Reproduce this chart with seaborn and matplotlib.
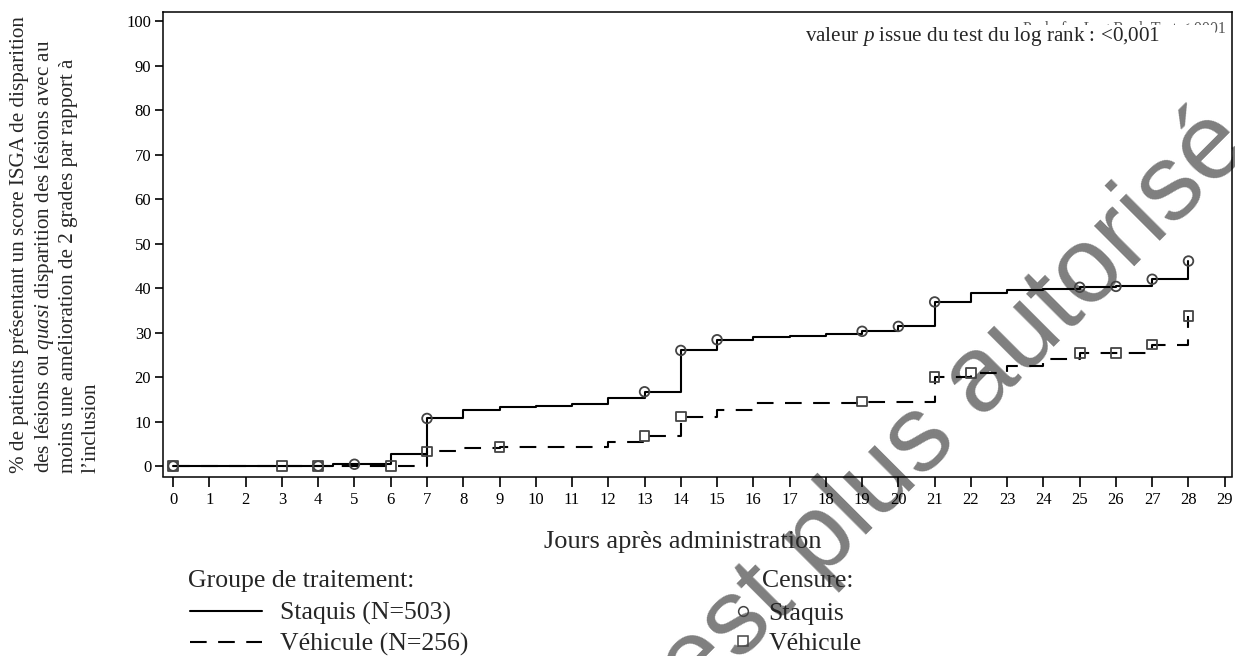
import numpy as np
import pandas as pd
import matplotlib
matplotlib.use("Agg")
import matplotlib.pyplot as plt
from matplotlib.lines import Line2D
from matplotlib.patches import Rectangle
import seaborn as sns

# ---------------- data ----------------
staquis_days = [0, 4.4, 6, 7, 8, 9, 10, 11, 12, 13, 14, 15, 16, 17, 18, 19, 20, 21, 22, 23, 24, 25, 26, 27, 28]
staquis_pct = [0, 0.4, 2.6, 10.7, 12.5, 13.2, 13.5, 13.9, 15.3, 16.7, 26.0, 28.4, 29.0, 29.2, 29.6, 30.3, 31.4,
               36.9, 39.0, 39.6, 39.9, 40.2, 40.4, 42.0, 46.1]
staquis_censor_days = [0, 4, 5, 7, 13, 14, 15, 19, 20, 21, 25, 26, 27, 28]

vehicule_days = [0, 7, 8, 9, 12, 13, 14, 15, 16, 19, 21, 22, 23, 24, 25, 27, 28]
vehicule_pct = [0, 3.3, 4.0, 4.3, 5.3, 6.8, 11.1, 12.7, 14.2, 14.5, 20.0, 20.9, 22.4, 24.1, 25.4, 27.3, 33.8]
vehicule_censor_days = [0, 3, 4, 6, 7, 9, 13, 14, 19, 21, 22, 25, 26, 27, 28]

x_ticks = list(range(0, 30))
y_ticks = list(range(0, 101, 10))

group_title = "Groupe de traitement:"
group_labels = ["Staquis (N=503)", "Véhicule (N=256)"]
censor_title = "Censure:"
censor_labels = ["Staquis", "Véhicule"]

ylabel_text = ("% de patients présentant un score ISGA de disparition\n"
               "des lésions ou $quasi$ disparition des lésions avec au\n"
               "moins une amélioration de 2 grades par rapport à\n"
               "l\u2019inclusion")
xlabel_text = "Jours après administration"
pvalue_text = "valeur $p$ issue du test du log rank : <0,001"
hidden_text = "Prob. for Log Rank Test <.0001"
watermark_text = "Médicament n'est plus autorisé"


def step_value(days, pct, d):
    i = np.searchsorted(days, d, side="right") - 1
    return pct[i]


st_df = pd.DataFrame({"day": staquis_days, "pct": staquis_pct})
ve_df = pd.DataFrame({"day": vehicule_days, "pct": vehicule_pct})
st_c = pd.DataFrame({"day": staquis_censor_days,
                     "pct": [step_value(staquis_days, staquis_pct, d) for d in staquis_censor_days]})
ve_c = pd.DataFrame({"day": vehicule_censor_days,
                     "pct": [step_value(vehicule_days, vehicule_pct, d) for d in vehicule_censor_days]})

# ---------------- style ----------------
sns.set_theme(style="ticks")
plt.rcParams["font.family"] = ["Liberation Serif", "DejaVu Serif"]
plt.rcParams["mathtext.fontset"] = "custom"
plt.rcParams["mathtext.rm"] = "Liberation Serif"
plt.rcParams["mathtext.it"] = "Liberation Serif:italic"
plt.rcParams["axes.linewidth"] = 1.1
plt.rcParams["axes.edgecolor"] = "black"

W, H = 1235, 656
fig = plt.figure(figsize=(W / 100, H / 100), dpi=100)
fig.patch.set_facecolor("white")
ax_l, ax_r, ax_t, ax_b = 163, 1232, 12, 476.5
ax = fig.add_axes([ax_l / W, 1 - ax_b / H, (ax_r - ax_l) / W, (ax_b - ax_t) / H])
ax.set_facecolor("none")


def ax_x(px):
    return (px - ax_l) / (ax_r - ax_l)


def ax_y(py):
    return 1 - (py - ax_t) / (ax_b - ax_t)


dash = (0, (8, 5.5))
line_kw = dict(color="black", linewidth=1.5, estimator=None, sort=False, drawstyle="steps-post")
sns.lineplot(data=st_df, x="day", y="pct", ax=ax, **line_kw, zorder=3)
sns.lineplot(data=ve_df, x="day", y="pct", ax=ax, **line_kw, linestyle=dash, zorder=3)

sns.scatterplot(data=st_c, x="day", y="pct", ax=ax, marker="o", s=48,
                facecolor="none", edgecolor="#444444", linewidth=1.3, zorder=4)
sns.scatterplot(data=ve_c, x="day", y="pct", ax=ax, marker="s", s=48,
                facecolor="none", edgecolor="#444444", linewidth=1.3, zorder=4)

ax.set_xlim(-0.28, 29.2)
ax.set_ylim(-2.35, 102.1)
ax.set_xticks(x_ticks)
ax.set_xticklabels([str(t) for t in x_ticks])
ax.set_yticks(y_ticks)
ax.set_yticklabels([str(t) for t in y_ticks])
ax.tick_params(axis="x", direction="out", length=7.5, width=1.2, pad=3.5, labelsize=12, colors="black")
ax.tick_params(axis="y", direction="out", length=6, width=1.2, pad=2.5, labelsize=12, colors="black")
for s in ax.spines.values():
    s.set_visible(True)
    s.set_linewidth(1.1)
    s.set_color("black")

ax.set_xlabel(xlabel_text, fontsize=19)
ax.xaxis.set_label_coords(ax_x(682.5), ax_y(542))
ax.xaxis.label.set_va("center")
ax.set_ylabel("")

fig.text(10 / W, 1 - 473 / H, ylabel_text, rotation=90, rotation_mode="anchor",
         ha="left", va="top", multialignment="left", fontsize=15.2, linespacing=1.25)

# p-value box covering the default inset
ax.text(ax_x(1226), ax_y(33), hidden_text, transform=ax.transAxes, ha="right",
        va="baseline", fontsize=11.5, color="#555555", zorder=5)
ax.add_patch(Rectangle((ax_x(795), ax_y(58)), ax_x(1215) - ax_x(795), ax_y(25.5) - ax_y(58),
                       transform=ax.transAxes, facecolor="white", edgecolor="none", zorder=6))
ax.text(ax_x(805), ax_y(37), pvalue_text, transform=ax.transAxes,
        ha="left", va="center", fontsize=15.2, zorder=7)

# legends
LFS = 18.5
fig.text(188 / W, 1 - 581 / H, group_title, ha="left", va="center", fontsize=LFS)
h1 = [Line2D([], [], color="black", linewidth=1.5),
      Line2D([], [], color="black", linewidth=1.5, linestyle=dash)]
fig.legend(h1, group_labels, loc="upper left", bbox_to_anchor=(190 / W, 1 - 602 / H),
           frameon=False, fontsize=LFS, handlelength=2.8, handletextpad=0.7,
           labelspacing=0.28, borderpad=0, borderaxespad=0)

fig.text(762 / W, 1 - 581 / H, censor_title, ha="left", va="center", fontsize=LFS)
h2 = [Line2D([], [], linestyle="none", marker="o", markersize=7, markerfacecolor="none",
             markeredgecolor="#444444", markeredgewidth=1.1),
      Line2D([], [], linestyle="none", marker="s", markersize=7, markerfacecolor="none",
             markeredgecolor="#444444", markeredgewidth=1.1)]
fig.legend(h2, censor_labels, loc="upper left", bbox_to_anchor=(735 / W, 1 - 602 / H),
           frameon=False, fontsize=LFS, handlelength=0.6, handletextpad=0.7,
           labelspacing=0.28, borderpad=0, borderaxespad=0)

# watermark
fig.text(1253 / W, 1 - 148 / H, watermark_text, rotation=45, rotation_mode="anchor",
         ha="right", va="baseline", fontsize=78, family="Liberation Sans", color="#7f7f7f",
         zorder=-1)

fig.savefig("out.png", dpi=100, facecolor="white")
